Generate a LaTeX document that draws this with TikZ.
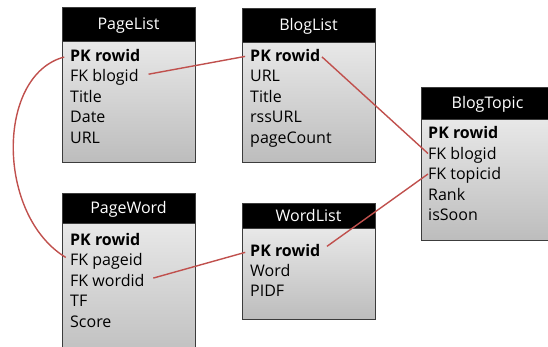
\documentclass[tikz,border=0pt]{standalone}
\usepackage{fontspec}
\setmainfont{Open Sans}
\definecolor{linkred}{RGB}{192,80,77}
\definecolor{boxline}{RGB}{60,60,60}
\begin{document}
\begin{tikzpicture}[x=1pt, y=-1pt,
    tabbody/.style={draw=boxline, top color=gray!18, bottom color=gray!52,
      minimum width=133pt, inner sep=0pt},
    tabhead/.style={draw=boxline, fill=black, text=white, minimum width=133pt,
      inner sep=0pt, text height=11pt, text depth=0pt, font=\fontsize{16}{18}\selectfont},
    field/.style={anchor=west, inner sep=0pt, text height=11pt, text depth=0pt,
      font=\fontsize{16}{18}\selectfont},
    link/.style={draw=linkred, line width=1.4pt}]
  \useasboundingbox (0,0) rectangle (548,346);
  \clip (0,0) rectangle (548,346);

  % PageList
  \node[tabbody, minimum height=121pt] (pl) at (128.5,101.5) {};
  \node[tabhead, minimum height=34pt] (plh) at (128.5,24) {PageList};
  \node[field] (pl1) at (70,55.5) {\textbf{PK rowid}};
  \node[field] (pl2) at (70,76) {FK blogid};
  \node[field] (pl3) at (70,96.5) {Title};
  \node[field] (pl4) at (70,117) {Date};
  \node[field] (pl5) at (70,137.5) {URL};

  % BlogList
  \node[tabbody, minimum height=120pt] (bl) at (308.5,102) {};
  \node[tabhead, minimum height=34pt] (blh) at (308.5,25) {BlogList};
  \node[field] (bl1) at (250,55.5) {\textbf{PK rowid}};
  \node[field] (bl2) at (250,76) {URL};
  \node[field] (bl3) at (250,96.5) {Title};
  \node[field] (bl4) at (250,117) {rssURL};
  \node[field] (bl5) at (250,137.5) {pageCount};

  % BlogTopic
  \node[tabbody, minimum height=121pt] (bt) at (487.5,179.5) {};
  \node[tabhead, minimum height=32pt] (bth) at (487.5,103) {BlogTopic};
  \node[field] (bt1) at (428,133) {\textbf{PK rowid}};
  \node[field] (bt2) at (428,153.5) {FK blogid};
  \node[field] (bt3) at (428,174) {FK topicid};
  \node[field] (bt4) at (428,194.5) {Rank};
  \node[field] (bt5) at (428,215) {isSoon};

  % PageWord
  \node[tabbody, minimum height=142pt] (pw) at (128.5,294) {};
  \node[tabhead, minimum height=30pt] (pwh) at (128.5,208) {PageWord};
  \node[field] (pw1) at (70,239.5) {\textbf{PK rowid}};
  \node[field] (pw2) at (70,260) {FK pageid};
  \node[field] (pw3) at (70,280.5) {FK wordid};
  \node[field] (pw4) at (70,301) {TF};
  \node[field] (pw5) at (70,321.5) {Score};

  % WordList
  \node[tabbody, minimum height=91pt] (wl) at (308.5,273.5) {};
  \node[tabhead, minimum height=25pt] (wlh) at (308.5,215.5) {WordList};
  \node[field] (wl1) at (250,251) {\textbf{PK rowid}};
  \node[field] (wl2) at (250,271) {Word};
  \node[field] (wl3) at (250,291) {PIDF};

  % links
  \draw[link, shorten <=6pt, shorten >=5pt] (pl1.west) .. controls (-4,75) and (-4,215) .. (pw2.west);
  \draw[link, shorten <=10pt, shorten >=5pt] (pl2.east) -- (bl1.west);
  \draw[link, shorten <=2pt] (bl1.east) -- (bt2.west);
  \draw[link, shorten <=9pt, shorten >=5pt] (pw3.east) -- (wl1.west);
  \draw[link, shorten <=8pt] (wl1.east) -- (bt3.west);
\end{tikzpicture}
\end{document}
